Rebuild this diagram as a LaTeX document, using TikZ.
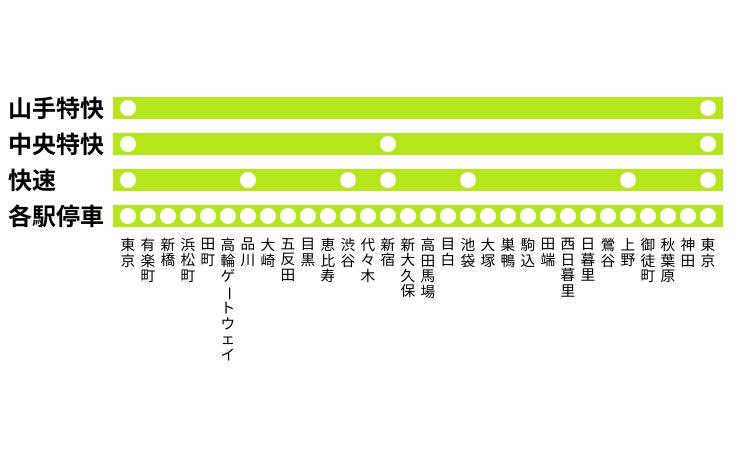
\documentclass[tikz,border=0pt]{standalone}
\usepackage{fontspec}
\usepackage{graphicx}
\newfontfamily\jp{Noto Sans CJK JP}
\newfontfamily\jpb{Noto Sans CJK JP Bold}
\definecolor{line}{HTML}{B5E61D}
\newcommand{\vb}{\rotatebox[origin=c]{-90}{ー}}
\begin{document}
\begin{tikzpicture}[x=0.75pt,y=-0.75pt,
  bar/.style={fill=line,draw=none},
  stop/.style={circle,fill=white,draw=none,minimum size=12pt,inner sep=0pt},
  lab/.style={anchor=west,font=\jpb\fontsize{18pt}{20pt}\selectfont,inner sep=0pt},
  sta/.style={anchor=north,align=center,inner sep=0pt,font=\jp\fontsize{11pt}{11.6pt}\selectfont}]
\useasboundingbox (0,0) rectangle (742,452);
\foreach \n/\y/\t in {a/108/山手特快,b/144/中央特快,c/180/快速,d/216/各駅停車}{
  \node[lab] (\n) at (8,\y) {\t};
  \fill[bar] (113,\y-11) rectangle (723,\y+11);
}
\foreach \i/\s [count=\k from 0] in {0/東\\京,1/有\\楽\\町,2/新\\橋,3/浜\\松\\町,4/田\\町,5/高\\輪\\ゲ\\\vb\\ト\\ウ\\ェ\\イ,6/品\\川,7/大\\崎,8/五\\反\\田,9/目\\黒,10/恵\\比\\寿,11/渋\\谷,12/代\\々\\木,13/新\\宿,14/新\\大\\久\\保,15/高\\田\\馬\\場,16/目\\白,17/池\\袋,18/大\\塚,19/巣\\鴨,20/駒\\込,21/田\\端,22/西\\日\\暮\\里,23/日\\暮\\里,24/鶯\\谷,25/上\\野,26/御\\徒\\町,27/秋\\葉\\原,28/神\\田,29/東\\京}{
  \node[sta] (s\i) at (128+20*\i,238) {\s};
  \node[stop] (d\i) at (128+20*\i,216) {};
}
\foreach \i in {0,6,11,13,17,25,29}{\node[stop] (c\i) at (128+20*\i,180) {};}
\foreach \i in {0,13,29}{\node[stop] (b\i) at (128+20*\i,144) {};}
\foreach \i in {0,29}{\node[stop] (a\i) at (128+20*\i,108) {};}
\end{tikzpicture}
\end{document}
